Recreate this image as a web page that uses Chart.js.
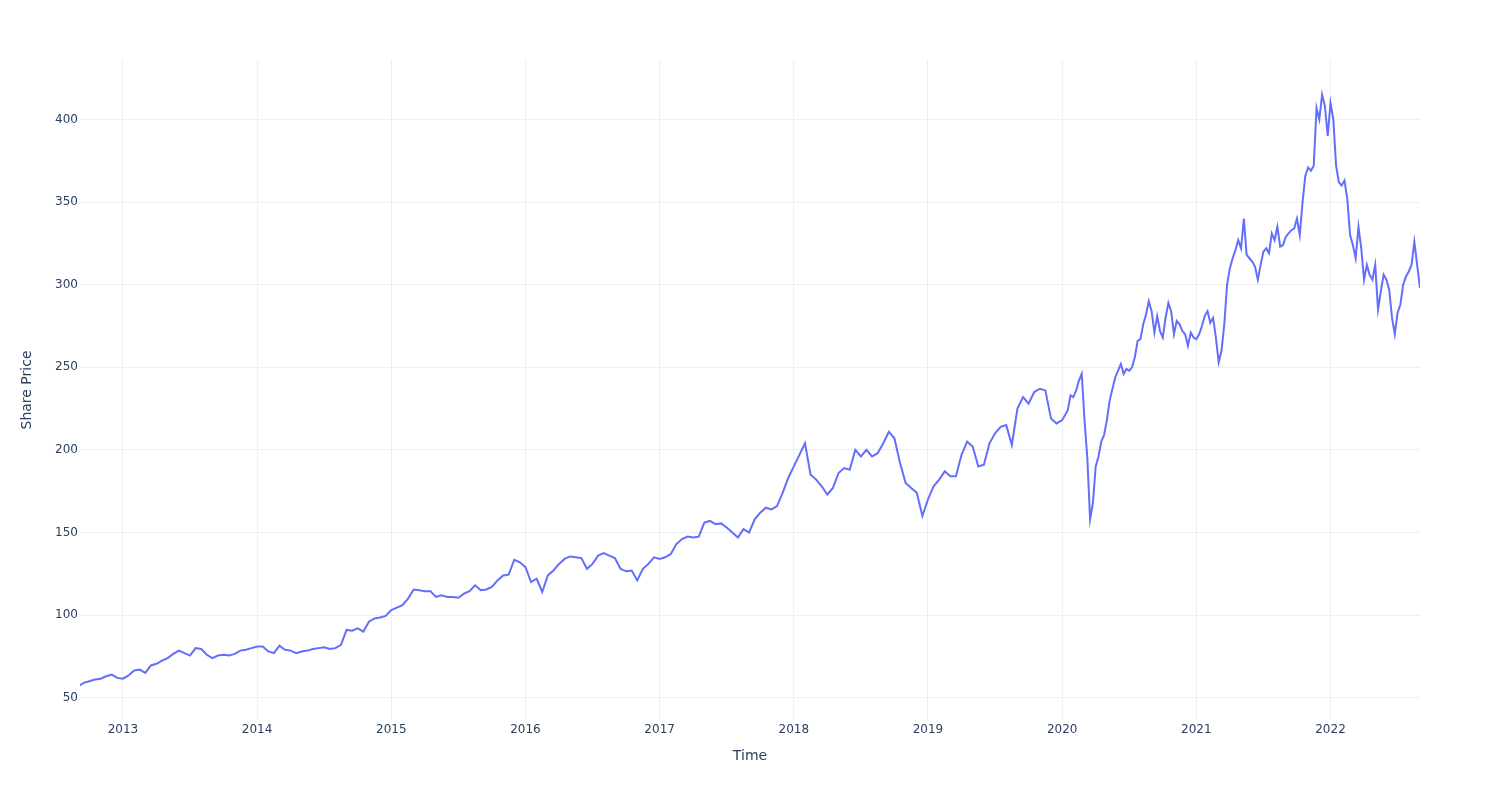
<!DOCTYPE html>
<html>
<head>
<meta charset="utf-8">
<script src="https://cdn.jsdelivr.net/npm/chart.js@4.4.1/dist/chart.umd.min.js"></script>
<style>
  body { margin: 0; background: #fff; }
  #wrap { width: 1500px; height: 800px; }
</style>
</head>
<body>
<div id="wrap"><canvas id="priceChart"></canvas></div>
<script>
// Share price.
// 2012-2019: two samples per month (1st and 16th), 2012 starts at September.
// 2020-2022: four samples per month, since those years move a lot more.
var prices2012 = [57, 59, 60, 61, 61.5, 63, 64, 62];
var prices2013 = [61.5, 63.5, 66.5, 67, 65, 69.5, 70.5, 72.5, 74, 76.5, 78.5, 77,
                  75.5, 80, 79.5, 76, 74, 75.5, 76, 75.5, 76.5, 78.5, 79, 80];
var prices2014 = [81, 81, 78, 77, 81.5, 79, 78.5, 77, 78, 78.5, 79.5, 80,
                  80.5, 79.5, 80, 82, 91, 90.5, 92, 90, 96, 98, 98.5, 99.5];
var prices2015 = [103, 104.5, 106, 110, 115.5, 115, 114.5, 114.5, 111, 112, 111, 111,
                  110.5, 113, 114.5, 118, 115, 115.5, 117, 121, 124, 124.5, 133.5, 132];
var prices2016 = [129, 120, 122, 114, 124, 127, 131, 134, 135.5, 135, 134.5, 128,
                  131, 136, 137.5, 136, 134.5, 128, 126.5, 127, 121, 128, 131, 135];
var prices2017 = [134, 135, 137, 143, 146, 147.5, 147, 147.5, 156, 157, 155, 155.5,
                  153, 150, 147, 152, 150, 158, 162, 165, 164, 166, 174, 183];
var prices2018 = [190, 197, 204, 185, 182, 178, 173, 177, 186, 189, 188, 200,
                  196, 200, 196, 198, 204, 211, 207, 192, 180, 177, 174, 160];
var prices2019 = [170, 178, 182, 187, 184, 184, 197, 205, 202, 190, 191, 204,
                  210, 214, 215, 203, 225, 232, 228, 235, 237, 236, 219, 216];
var prices2020 = [218, 221, 224, 233, 232, 236, 242, 246, 218, 195, 158, 168,
                  190, 196, 205, 209, 218, 230, 237, 244, 248, 252, 246, 249,
                  248, 250, 256, 266, 267, 276, 282, 290, 284, 271, 281, 272,
                  268, 280, 289, 284, 270, 278, 276, 272, 270, 263, 271, 268];
var prices2021 = [267, 270, 275, 281, 284, 277, 280, 268, 253, 260, 276, 300,
                  310, 316, 321, 327, 322, 340, 318, 316, 314, 311, 303, 312,
                  320, 322, 319, 331, 327, 335, 323, 324, 329, 331, 333, 334,
                  340, 330, 350, 366, 371, 369, 372, 407, 400, 415, 408, 390];
var prices2022 = [410, 400, 372, 362, 360, 363, 352, 330, 324, 316, 335, 322,
                  303, 312, 306, 303, 312, 285, 296, 306, 303, 297, 280, 270,
                  283, 288, 300, 305, 308, 312, 326, 312, 298];

var years = [2012, 2013, 2014, 2015, 2016, 2017, 2018, 2019, 2020, 2021, 2022];
var yearPrices = [prices2012, prices2013, prices2014, prices2015, prices2016, prices2017,
                  prices2018, prices2019, prices2020, prices2021, prices2022];
var samplesPerYear = [24, 24, 24, 24, 24, 24, 24, 24, 48, 48, 48];
var firstSample2012 = 16;

var yearTicks = [2013, 2014, 2015, 2016, 2017, 2018, 2019, 2020, 2021, 2022];
var priceTicks = [50, 100, 150, 200, 250, 300, 350, 400];

// Build x/y points, x as fractional year
var points = [];
for (var i = 0; i < years.length; i++) {
    var start = years[i] === 2012 ? firstSample2012 : 0;
    for (var j = 0; j < yearPrices[i].length; j++) {
        points.push({ x: years[i] + (start + j) / samplesPerYear[i], y: yearPrices[i][j] });
    }
}

var fontFamily = '"DejaVu Sans", "Open Sans", sans-serif';
var textColor = '#2a3f5f';
var gridColor = '#ebf0f8';

var ctx = document.getElementById('priceChart').getContext('2d');
var chart = new Chart(ctx, {
    type: 'line',
    data: {
        datasets: [{
            data: points,
            borderColor: '#636efa',
            borderWidth: 2,
            pointRadius: 0,
            tension: 0,
            fill: false
        }]
    },
    options: {
        responsive: true,
        maintainAspectRatio: false,
        animation: false,
        layout: { padding: { top: 60, right: 80, left: 0, bottom: 0 } },
        plugins: {
            legend: { display: false },
            tooltip: { enabled: false }
        },
        scales: {
            x: {
                type: 'linear',
                min: 2012.68,
                max: 2022.667,
                afterFit: function (scale) { scale.height = 80; },
                afterBuildTicks: function (scale) {
                    scale.ticks = yearTicks.map(function (v) { return { value: v }; });
                },
                grid: { color: gridColor, lineWidth: 1, drawTicks: false },
                border: { display: false },
                ticks: {
                    padding: 3,
                    maxRotation: 0,
                    color: textColor,
                    font: { family: fontFamily, size: 12 },
                    callback: function (v) { return String(v); }
                },
                title: {
                    display: true,
                    text: 'Time',
                    color: textColor,
                    font: { family: fontFamily, size: 14 },
                    padding: { top: 0, bottom: 35.6 }
                }
            },
            y: {
                type: 'linear',
                min: 36.5,
                max: 436,
                afterFit: function (scale) { scale.width = 80; },
                afterBuildTicks: function (scale) {
                    scale.ticks = priceTicks.map(function (v) { return { value: v }; });
                },
                grid: { color: gridColor, lineWidth: 1, drawTicks: false },
                border: { display: false },
                ticks: {
                    padding: 2,
                    color: textColor,
                    font: { family: fontFamily, size: 12 },
                    callback: function (v) { return String(v); }
                },
                title: {
                    display: true,
                    text: 'Share Price',
                    color: textColor,
                    font: { family: fontFamily, size: 14 },
                    padding: { top: 18.6, bottom: 0 }
                }
            }
        }
    }
});
</script>
</body>
</html>
